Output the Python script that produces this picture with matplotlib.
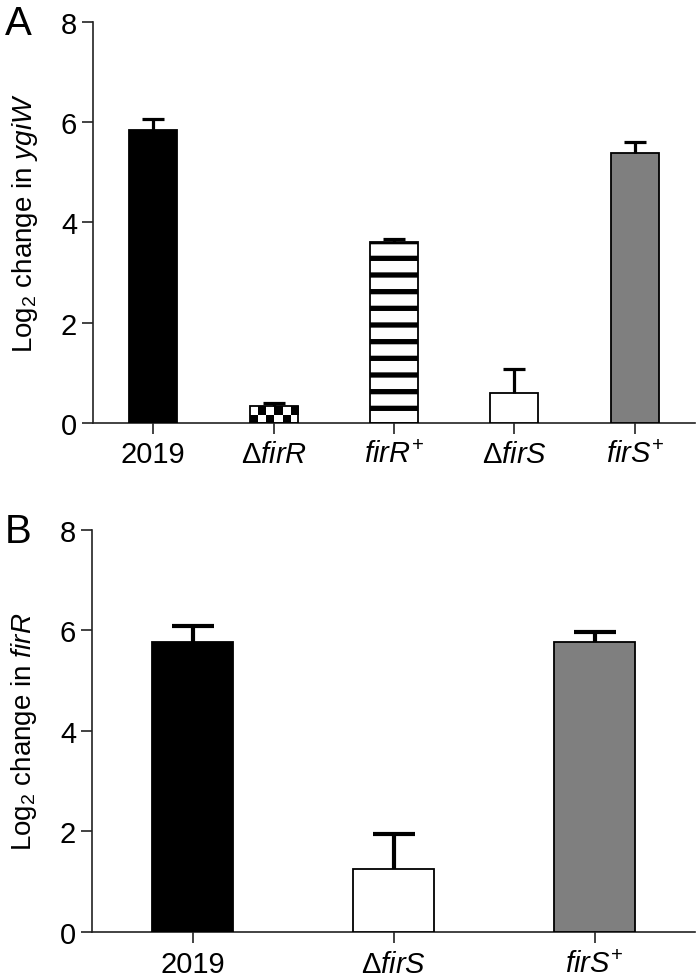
import numpy as np
import matplotlib
matplotlib.use('Agg')
import matplotlib.pyplot as plt
from matplotlib.colors import ListedColormap

plt.rcParams['font.family'] = ['Liberation Sans', 'DejaVu Sans']
plt.rcParams['mathtext.fontset'] = 'custom'
plt.rcParams['mathtext.rm'] = 'Liberation Sans'
plt.rcParams['mathtext.it'] = 'Liberation Sans:italic'
plt.rcParams['mathtext.bf'] = 'Liberation Sans:bold'
plt.rcParams['hatch.linewidth'] = 3.8

# ---------------- data ----------------
a_labels = ['2019', r'$\Delta\mathit{firR}$', r'$\mathit{firR}^{+}$',
            r'$\Delta\mathit{firS}$', r'$\mathit{firS}^{+}$']
a_values = [5.85, 0.34, 3.61, 0.60, 5.39]
a_errors = [0.22, 0.06, 0.05, 0.48, 0.22]
a_fills = ['black', 'checker', 'stripes', 'white', 'gray']
a_ylabel = r'Log$_2$ change in $\mathit{ygiW}$'

b_labels = ['2019', r'$\Delta\mathit{firS}$', r'$\mathit{firS}^{+}$']
b_values = [5.76, 1.24, 5.77]
b_errors = [0.32, 0.70, 0.20]
b_fills = ['black', 'white', 'gray']
b_ylabel = r'Log$_2$ change in $\mathit{firR}$'

yticks = [0, 2, 4, 6, 8]

fig = plt.figure(figsize=(7.0, 9.79), dpi=100)
axA = fig.add_axes([93/700, 1-424/979, 602/700, (424-22.7)/979])
axB = fig.add_axes([92/700, 1-932.7/979, 603/700, (932.7-530.7)/979])

GRAY = '#7f7f7f'


def draw_panel(ax, labels, values, errors, fills, ylabel, lw_err, capsize, letter, xpad):
    n = len(values)
    x = np.arange(n)
    ax.set_xlim(-0.5, n - 0.5)
    ax.set_ylim(0, 8)
    facecolors = []
    hatches = []
    for f in fills:
        if f == 'black':
            facecolors.append('black'); hatches.append(None)
        elif f == 'gray':
            facecolors.append(GRAY); hatches.append(None)
        elif f == 'stripes':
            facecolors.append('white'); hatches.append('-')
        elif f == 'checker':
            facecolors.append('none'); hatches.append(None)
        else:
            facecolors.append('white'); hatches.append(None)
    bars = ax.bar(x, values, width=0.4, color=facecolors, edgecolor='black',
                  linewidth=1.3, zorder=3)
    for b, h in zip(bars, hatches):
        if h:
            b.set_hatch(h)
    # checkerboard fills
    fig.canvas.draw()
    p0 = ax.transData.transform((0, 0))
    p1 = ax.transData.transform((1, 1))
    px_x = p1[0] - p0[0]
    px_y = p1[1] - p0[1]
    sq = 8.0
    for b, f in zip(bars, fills):
        if f != 'checker':
            continue
        bx, bw, bh = b.get_x(), b.get_width(), b.get_height()
        ncols = max(1, int(round(bw * px_x / sq)))
        sq_y = sq / px_y
        nrows = max(1, int(np.ceil(bh / sq_y)))
        grid = (np.add.outer(np.arange(nrows), np.arange(ncols)) % 2).astype(float)
        im = ax.imshow(grid, cmap=ListedColormap(['black', 'white']),
                       extent=(bx, bx + bw, 0, nrows * sq_y), origin='lower',
                       interpolation='nearest', aspect='auto', zorder=2)
        im.set_clip_path(b)
    _, caps, _ = ax.errorbar(x, values, yerr=[np.zeros(n), errors], fmt='none',
                             ecolor='black', elinewidth=lw_err, capsize=capsize,
                             capthick=lw_err, zorder=4)
    if len(caps) == 2:
        caps[0].set_visible(False)
    ax.set_xlim(-0.5, n - 0.5)
    ax.set_ylim(0, 8)
    ax.set_xticks(x)
    ax.set_xticklabels(labels)
    ax.set_yticks(yticks)
    for s in ['top', 'right']:
        ax.spines[s].set_visible(False)
    for s in ['left', 'bottom']:
        ax.spines[s].set_linewidth(1.2)
        ax.spines[s].set_color('#222222')
    ax.tick_params(axis='y', length=8, width=1.2, pad=3.5, labelsize=21, color='#222222')
    ax.tick_params(axis='x', length=8, width=1.2, pad=xpad, labelsize=21, color='#222222')
    ax.set_ylabel(ylabel, fontsize=20, labelpad=15)
    bb = ax.get_position()
    fig.text(5/700, bb.y1 - 12.3/979, letter, fontsize=29, ha='left', va='baseline')


draw_panel(axA, a_labels, a_values, a_errors, a_fills, a_ylabel, 2.3, 8, 'A', 4.5)
draw_panel(axB, b_labels, b_values, b_errors, b_fills, b_ylabel, 3.0, 15, 'B', 5)

fig.savefig('out.png', dpi=100)
